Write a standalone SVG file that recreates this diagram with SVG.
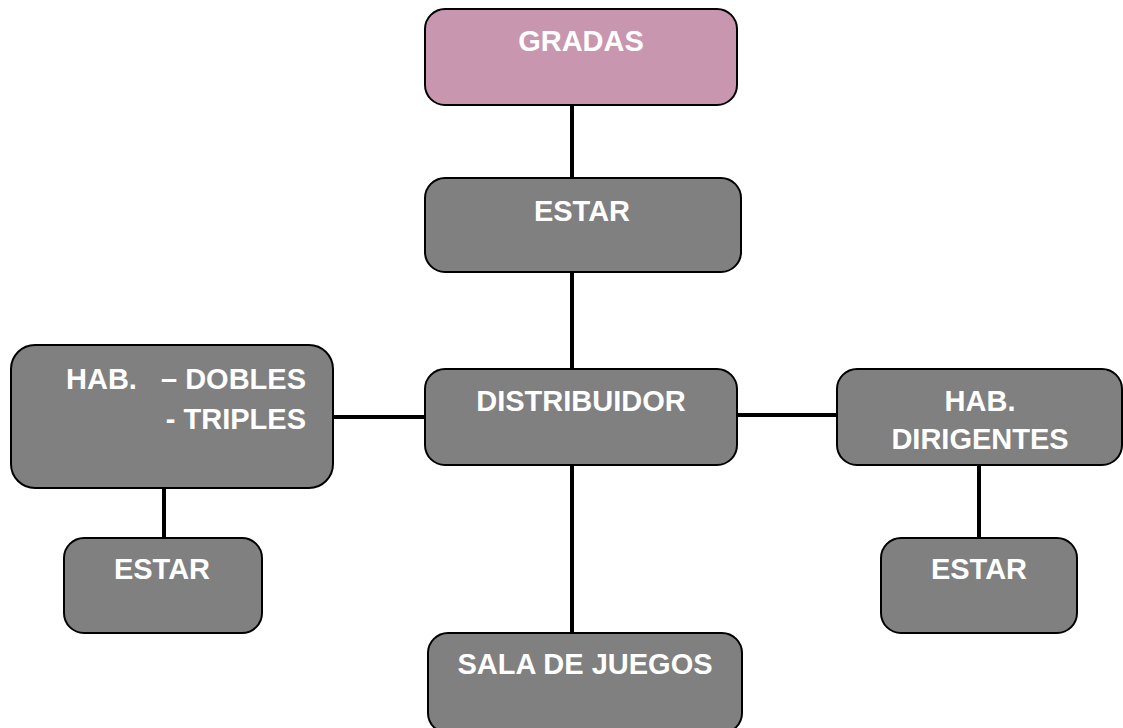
<svg xmlns="http://www.w3.org/2000/svg" width="1123" height="728" viewBox="0 0 1123 728">
<style>
.box{fill:#808080;stroke:#000;stroke-width:2}
.pink{fill:#C996B0;stroke:#000;stroke-width:2}
.t{font-family:"Liberation Sans",Arial,sans-serif;font-weight:bold;font-size:29px;fill:#fff}
.c{text-anchor:middle}
.e{text-anchor:end}
.ln{stroke:#000;stroke-width:4;fill:none}
</style>
<rect width="1123" height="728" fill="#fff"/>
<g id="connectors">
<line class="ln" x1="572" y1="105" x2="572" y2="178"/>
<line class="ln" x1="572" y1="272" x2="572" y2="369"/>
<line class="ln" x1="572" y1="465" x2="572" y2="633"/>
<line class="ln" x1="333" y1="417" x2="425" y2="417"/>
<line class="ln" x1="737" y1="415" x2="837" y2="415"/>
<line class="ln" x1="164" y1="488" x2="164" y2="538"/>
<line class="ln" x1="979" y1="465" x2="979" y2="538"/>
</g>
<g id="gradas">
<rect class="pink" x="425" y="9" width="312" height="96" rx="20"/>
<text class="t c" x="581" y="51">GRADAS</text>
</g>
<g id="estar-top">
<rect class="box" x="425" y="178" width="316" height="94" rx="20"/>
<text class="t c" x="582" y="221">ESTAR</text>
</g>
<g id="distribuidor">
<rect class="box" x="425" y="369" width="312" height="96" rx="20"/>
<text class="t c" x="581" y="411">DISTRIBUIDOR</text>
</g>
<g id="hab-dobles">
<rect class="box" x="11" y="345" width="322" height="143" rx="24"/>
<text class="t" x="66" y="389">HAB.</text>
<text class="t e" x="306" y="389">– DOBLES</text>
<text class="t e" x="306" y="429">- TRIPLES</text>
</g>
<g id="hab-dirigentes">
<rect class="box" x="837" y="369" width="285" height="96" rx="20"/>
<text class="t c" x="980" y="411">HAB.</text>
<text class="t c" x="980" y="449">DIRIGENTES</text>
</g>
<g id="estar-left">
<rect class="box" x="64" y="538" width="198" height="95" rx="20"/>
<text class="t c" x="162" y="579">ESTAR</text>
</g>
<g id="estar-right">
<rect class="box" x="881" y="538" width="196" height="95" rx="20"/>
<text class="t c" x="979" y="579">ESTAR</text>
</g>
<g id="sala-juegos">
<rect class="box" x="428" y="633" width="314" height="100" rx="20"/>
<text class="t c" x="585" y="674">SALA DE JUEGOS</text>
</g>
</svg>
